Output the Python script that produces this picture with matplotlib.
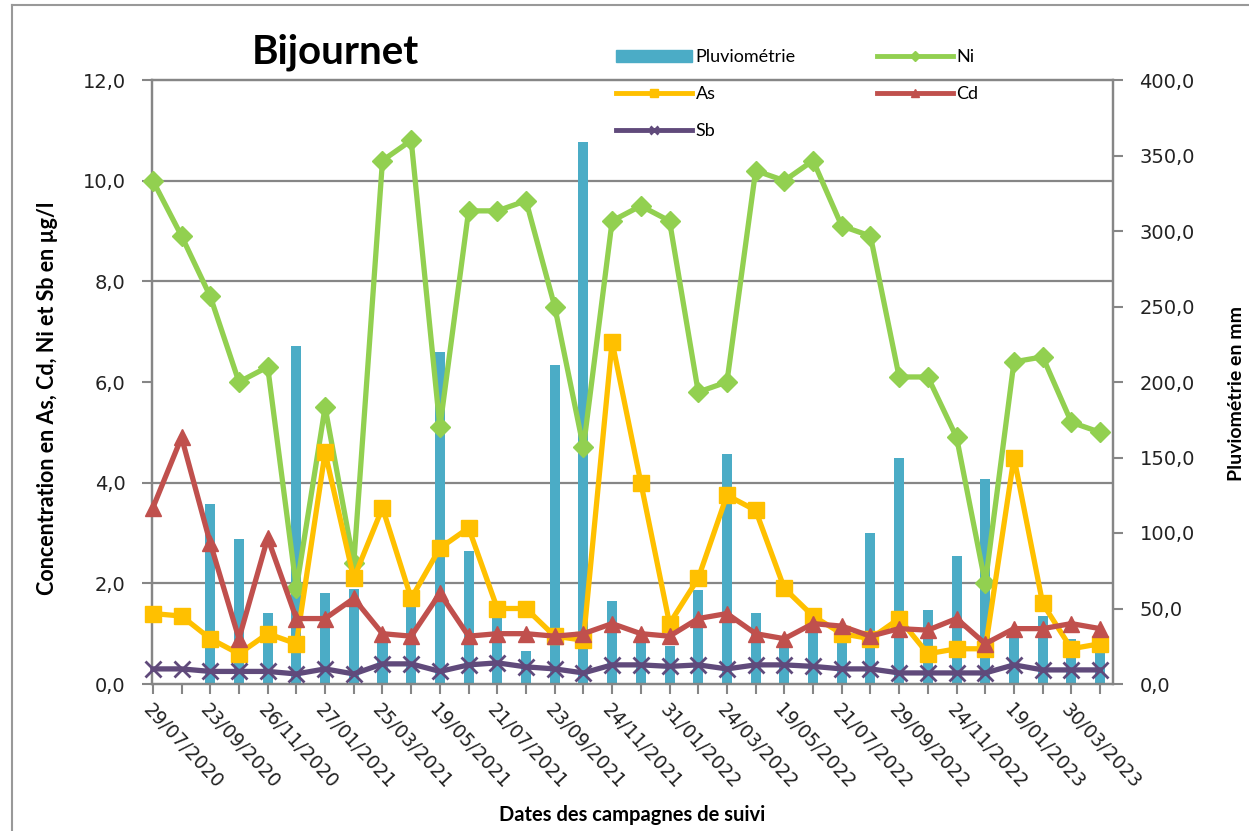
import matplotlib
matplotlib.use("Agg")
import matplotlib.pyplot as plt
from matplotlib.ticker import MultipleLocator, FuncFormatter
from matplotlib.lines import Line2D
from matplotlib.patches import Patch
import numpy as np

# labelled campaign dates (every other sampling campaign carries a label)
tick_dates = ["29/07/2020", "23/09/2020", "26/11/2020", "27/01/2021", "25/03/2021",
              "19/05/2021", "21/07/2021", "23/09/2021", "24/11/2021", "31/01/2022",
              "24/03/2022", "19/05/2022", "21/07/2022", "29/09/2022", "24/11/2022",
              "19/01/2023", "30/03/2023"]

# rainfall in mm (right axis)
pluvio = [0, 0, 119, 96, 47, 224, 60, 63, 30, 55, 220, 88, 45, 22, 211, 359, 55,
          30, 25, 62, 152, 47, 32, 45, 30, 100, 150, 49, 85, 136, 35, 45, 30, 25]

# concentrations in µg/l (left axis)
ni = [10.0, 8.9, 7.7, 6.0, 6.3, 1.9, 5.5, 2.4, 10.4, 10.8, 5.1, 9.4, 9.4, 9.6, 7.5,
      4.7, 9.2, 9.5, 9.2, 5.8, 6.0, 10.2, 10.0, 10.4, 9.1, 8.9, 6.1, 6.1, 4.9, 2.0,
      6.4, 6.5, 5.2, 5.0]
as_ = [1.4, 1.35, 0.9, 0.6, 1.0, 0.8, 4.6, 2.1, 3.5, 1.7, 2.7, 3.1, 1.5, 1.5, 0.95,
       0.87, 6.8, 4.0, 1.2, 2.1, 3.75, 3.45, 1.9, 1.35, 1.0, 0.9, 1.3, 0.6, 0.7, 0.7,
       4.5, 1.6, 0.7, 0.8]
cd = [3.5, 4.9, 2.8, 0.9, 2.9, 1.3, 1.3, 1.7, 1.0, 0.95, 1.8, 0.95, 1.0, 1.0, 0.95,
      1.0, 1.2, 1.0, 0.95, 1.3, 1.4, 1.0, 0.9, 1.2, 1.15, 0.95, 1.1, 1.07, 1.3, 0.8,
      1.1, 1.1, 1.2, 1.1]
sb = [0.3, 0.3, 0.25, 0.25, 0.25, 0.2, 0.3, 0.2, 0.4, 0.4, 0.25, 0.38, 0.42, 0.34,
      0.3, 0.22, 0.38, 0.38, 0.35, 0.38, 0.3, 0.38, 0.38, 0.35, 0.3, 0.3, 0.22, 0.22,
      0.22, 0.22, 0.38, 0.28, 0.28, 0.28]

c_bar = "#4BACC6"
c_ni = "#92D050"
c_as = "#FFC000"
c_cd = "#C0504D"
c_sb = "#604A7B"
c_axis = "#868686"
lab_font = "Lato"

W, H = 1249, 831
fig = plt.figure(figsize=(W / 100, H / 100), dpi=100)
rect = [152 / W, 1 - 684 / H, (1113 - 152) / W, (684 - 80) / H]

x = np.arange(len(ni))
xlim = (-0.03, len(x) - 1 + 0.45)
comma = FuncFormatter(lambda v, p: f"{v:.1f}".replace(".", ","))

# rainfall bars on the right axis (drawn underneath)
ax2 = fig.add_axes(rect)
ax2.bar(x, pluvio, width=0.35, color=c_bar, zorder=2)
ax2.set_xlim(*xlim)
ax2.set_ylim(0, 400)
ax2.yaxis.tick_right()
ax2.yaxis.set_major_locator(MultipleLocator(50))
ax2.yaxis.set_major_formatter(comma)
ax2.yaxis.set_minor_locator(MultipleLocator(400 / 6))
ax2.grid(which="minor", axis="y", color=c_axis, lw=1.6, zorder=0)
ax2.tick_params(axis="y", which="minor", length=0)
ax2.tick_params(axis="y", which="major", direction="out", length=7, width=1.5,
                color=c_axis, labelsize=14, pad=12, labelcolor="#222222")
ax2.tick_params(axis="x", bottom=False, labelbottom=False)

# concentration lines on the left axis
ax1 = fig.add_axes(rect)
ax1.patch.set_visible(False)
kw = dict(lw=3.8, clip_on=False)
ax1.plot(x, ni, color=c_ni, marker="D", ms=10, zorder=3, **kw)
ax1.plot(x, as_, color=c_as, marker="s", ms=12, zorder=4, **kw)
ax1.plot(x, cd, color=c_cd, marker="^", ms=12, zorder=5, **kw)
ax1.plot(x, sb, color=c_sb, marker="x", ms=11, mew=2, zorder=6, **kw)
ax1.set_xlim(*xlim)
ax1.set_ylim(0, 12)
ax1.yaxis.set_major_locator(MultipleLocator(2))
ax1.yaxis.set_major_formatter(comma)
ax1.tick_params(axis="y", direction="out", length=7, width=1.5, color=c_axis,
                labelsize=14, pad=12, labelcolor="#222222")
ax1.set_xticks(x)
ax1.set_xticklabels([tick_dates[i // 2] if i % 2 == 0 else "" for i in x],
                    rotation=-47, ha="left", va="top", rotation_mode="anchor")
ax1.tick_params(axis="x", direction="out", length=7, width=1.5, color=c_axis,
                labelsize=13.5, pad=5, labelcolor="#222222")

for a in (ax1, ax2):
    for s in a.spines.values():
        s.set_color(c_axis)
        s.set_linewidth(1.6)

# titles and axis labels
fig.text(335 / W, 1 - 52 / H, "Bijournet", family=lab_font, weight="bold",
         fontsize=29, ha="center", va="center")
fig.text(48 / W, 1 - 398 / H, "Concentration en As, Cd, Ni et Sb en µg/l",
         family=lab_font, weight="bold", fontsize=15.5, rotation=90,
         ha="center", va="center")
fig.text(1236 / W, 1 - 394 / H, "Pluviométrie en mm", family=lab_font,
         weight="bold", fontsize=14, rotation=90, ha="center", va="center")
fig.text(632 / W, 1 - 815 / H, "Dates des campagnes de suivi", family=lab_font,
         weight="bold", fontsize=14.5, ha="center", va="center")

# legend, filled row by row: Pluviométrie, Ni / As, Cd / Sb
hnd = [Patch(color=c_bar),
       Line2D([], [], color=c_as, lw=3.5, marker="s", ms=6),
       Line2D([], [], color=c_sb, lw=3.5, marker="x", ms=6, mew=2),
       Line2D([], [], color=c_ni, lw=3.5, marker="D", ms=5),
       Line2D([], [], color=c_cd, lw=3.5, marker="^", ms=6)]
lbl = ["Pluviométrie", "As", "Sb", "Ni", "Cd"]
fig.legend(hnd, lbl, loc="upper left", bbox_to_anchor=(600 / W, 1 - 33 / H),
           ncol=2, frameon=False, prop={"family": lab_font, "size": 13},
           handlelength=4.2, handleheight=0.6, handletextpad=0.2,
           columnspacing=4.5, labelspacing=1.15)

# chart area border
fig.add_artist(Line2D([12 / W, 12 / W], [0, 1 - 5 / H], color="#999999", lw=1.5))
fig.add_artist(Line2D([12 / W, 1], [1 - 5 / H, 1 - 5 / H], color="#999999", lw=1.5))

fig.savefig("out.png", dpi=100)
